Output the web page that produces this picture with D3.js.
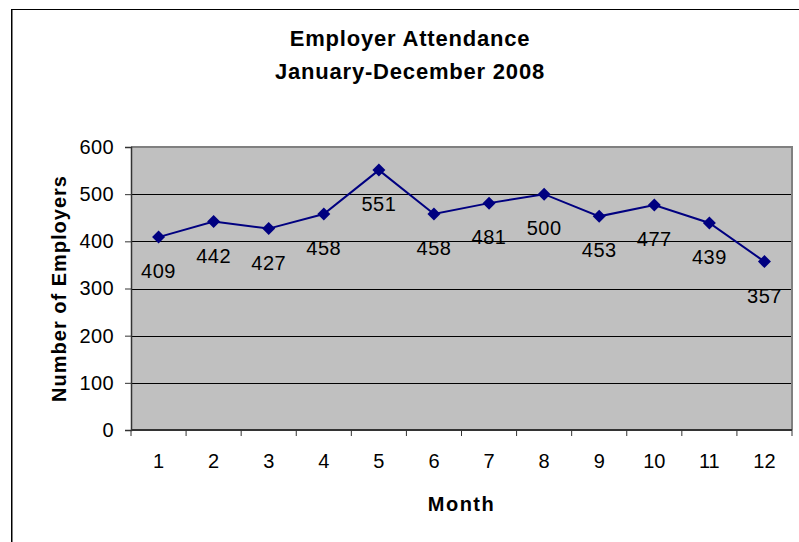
<!DOCTYPE html>
<html>
<head>
<meta charset="utf-8">
<script src="https://cdn.jsdelivr.net/npm/d3@7"></script>
<style>
  html, body { margin: 0; padding: 0; background: #fff; }
  svg { display: block; font-family: Arial, "Liberation Sans", sans-serif; }
</style>
</head>
<body>
<svg id="chart" width="799" height="542"></svg>
<script>
const months = ["1","2","3","4","5","6","7","8","9","10","11","12"];
const employers = [409, 442, 427, 458, 551, 458, 481, 500, 453, 477, 439, 357];
const yTicks = [0, 100, 200, 300, 400, 500, 600];
const titleLines = ["Employer Attendance", "January-December 2008"];
const yTitle = "Number of Employers";
const xTitle = "Month";

const svg = d3.select("#chart");
const W = 799, H = 542;
const plot = { left: 131, right: 792, top: 147, bottom: 430 };

const data = months.map((m, i) => ({ m, v: employers[i] }));

const x = d3.scaleBand().domain(months).range([plot.left, plot.right]).padding(0);
const y = d3.scaleLinear().domain([0, 600]).range([plot.bottom, plot.top]);

// outer chart border
svg.append("rect")
  .attr("x", 11.5).attr("y", 9.5)
  .attr("width", 820).attr("height", 560)
  .attr("fill", "#fff").attr("stroke", "#000").attr("stroke-width", 1);
svg.append("line").attr("x1", 12.5).attr("x2", 12.5).attr("y1", 10).attr("y2", H)
  .attr("stroke", "#808080").attr("stroke-width", 1);

// plot background
svg.append("rect")
  .attr("x", plot.left).attr("y", plot.top)
  .attr("width", plot.right - plot.left).attr("height", plot.bottom - plot.top)
  .attr("fill", "#C0C0C0");

// gridlines
svg.append("g").selectAll("line")
  .data(yTicks.filter(t => t > 0 && t < 600))
  .join("line")
  .attr("x1", plot.left).attr("x2", plot.right)
  .attr("y1", d => Math.round(y(d)) + 0.5).attr("y2", d => Math.round(y(d)) + 0.5)
  .attr("stroke", "#000").attr("stroke-width", 1);

// plot border top and right (gray)
svg.append("path")
  .attr("d", `M${plot.left},${plot.top} H${plot.right} V${plot.bottom}`)
  .attr("fill", "none").attr("stroke", "#808080").attr("stroke-width", 2);

// y axis
const yAxis = d3.axisLeft(y).tickValues(yTicks).tickSize(6).tickPadding(11).tickFormat(d3.format("d"));
const gy = svg.append("g").attr("transform", `translate(${plot.left},0)`).call(yAxis);
gy.select(".domain").attr("stroke", "#333").attr("stroke-width", 1.5);
gy.selectAll(".tick line").attr("stroke", "#333");
gy.selectAll(".tick text").attr("font-size", 20).attr("fill", "#000").attr("letter-spacing", 0.4)
  .attr("font-family", "Arial, 'Liberation Sans', sans-serif");

// x axis (ticks between categories)
const gx = svg.append("g").attr("transform", `translate(0,${plot.bottom})`);
gx.append("line").attr("x1", plot.left).attr("x2", plot.right).attr("y1", 0).attr("y2", 0)
  .attr("stroke", "#333").attr("stroke-width", 2);
const edges = months.map(m => x(m)).concat([plot.right]);
gx.selectAll("line.tk").data(edges).join("line").attr("class", "tk")
  .attr("x1", d => d).attr("x2", d => d).attr("y1", 0).attr("y2", 6)
  .attr("stroke", "#333").attr("stroke-width", 1);
gx.selectAll("text").data(months).join("text")
  .attr("x", d => x(d) + x.bandwidth() / 2)
  .attr("y", 38)
  .attr("text-anchor", "middle")
  .attr("font-size", 20)
  .text(d => d);

// line
const line = d3.line().x(d => x(d.m) + x.bandwidth() / 2).y(d => y(d.v));
svg.append("path").datum(data)
  .attr("d", line).attr("fill", "none")
  .attr("stroke", "#000080").attr("stroke-width", 2);

// markers
svg.append("g").selectAll("path").data(data).join("path")
  .attr("transform", d => `translate(${x(d.m) + x.bandwidth() / 2},${y(d.v)})`)
  .attr("d", "M0,-6.5L6.5,0L0,6.5L-6.5,0Z")
  .attr("fill", "#000080");

// data labels
svg.append("g").selectAll("text").data(data).join("text")
  .attr("x", d => x(d.m) + x.bandwidth() / 2)
  .attr("y", d => y(d.v) + 41)
  .attr("text-anchor", "middle")
  .attr("font-size", 20).attr("letter-spacing", 0.5)
  .text(d => d.v);

// title
svg.append("g").selectAll("text").data(titleLines).join("text")
  .attr("x", 410)
  .attr("y", (d, i) => 46 + i * 33)
  .attr("text-anchor", "middle")
  .attr("font-size", 22).attr("font-weight", "bold").attr("letter-spacing", 0.8)
  .text(d => d);

// axis titles
svg.append("text")
  .attr("transform", `translate(66,${(plot.top + plot.bottom) / 2}) rotate(-90)`)
  .attr("text-anchor", "middle")
  .attr("font-size", 20).attr("font-weight", "bold").attr("letter-spacing", 1)
  .text(yTitle);
svg.append("text")
  .attr("x", (plot.left + plot.right) / 2).attr("y", 511)
  .attr("text-anchor", "middle")
  .attr("font-size", 20).attr("font-weight", "bold").attr("letter-spacing", 1.5)
  .text(xTitle);
</script>
</body>
</html>
